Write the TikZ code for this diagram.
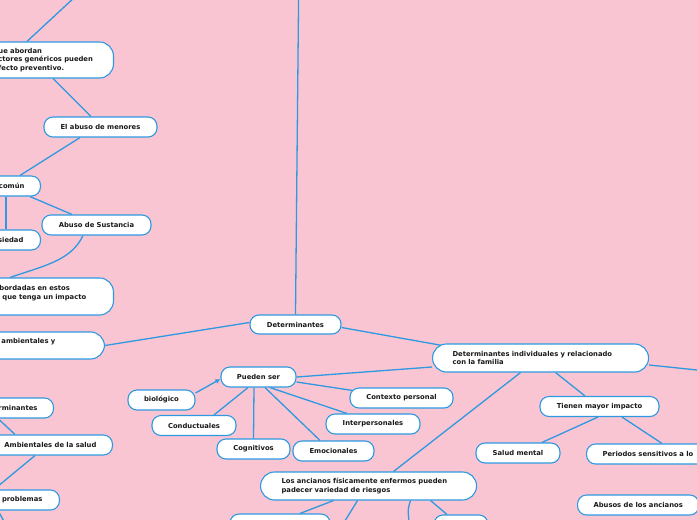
\documentclass[tikz,border=0pt]{standalone}
\usepackage{fontspec}
\setmainfont{DejaVu Sans}
\usetikzlibrary{arrows.meta,positioning}
\definecolor{mapbg}{RGB}{249,197,210}
\definecolor{mapblue}{RGB}{46,152,224}
\definecolor{mapink}{RGB}{25,25,25}
\pgfdeclarelayer{back}
\pgfsetlayers{back,main}

\begin{document}
\begin{tikzpicture}[x=1pt,y=-1pt,
idea/.style={draw=mapblue, line width=1.1pt, fill=white, rounded corners=9pt, text=mapink, font=\fontsize{6.8}{8.8}\selectfont\bfseries, minimum height=20pt, inner ysep=2pt, align=center},
wide/.style={idea, rounded corners=14pt, align=left, inner xsep=20pt},
cut/.style={idea, anchor=east, inner xsep=17pt},
cutwide/.style={wide, anchor=east, inner xsep=18pt},
link/.style={draw=mapblue, line width=1.3pt}
]
\useasboundingbox (0,0) rectangle (697,520);

% left branch
\node[cutwide, text width=97pt, minimum height=36pt] (generic) at (114,60) {ue abordan\\ctores genéricos pueden\\fecto preventivo.};
\node[idea, minimum width=113pt] (menores) at (100.5,127) {El abuso de menores};
\node[cut, inner xsep=16pt] (comun) at (41,186) {común};
\node[cut, inner xsep=17pt] (ansiedad) at (41,240) {siedad};
\node[idea, minimum width=109pt] (sustancia) at (96.5,225) {Abuso de Sustancia};
\node[cutwide, text width=96pt, minimum height=37pt] (impacto) at (114,296.5) {bordadas en estos\\\hspace*{3pt}que tenga un impacto\\\mbox{}};
\node[cutwide, text width=85pt, minimum height=27pt] (ambientales) at (105,345.5) {ambientales y\\\mbox{}};
\node[cut, inner xsep=16pt] (determb) at (54,408) {rminantes};
\node[cut, inner xsep=16pt] (ambsalud) at (113,445) {Ambientales de la salud};
\node[cut, inner xsep=17pt] (problemas) at (60,500) {problemas};

% center
\node[idea, minimum width=91pt, minimum height=19pt] (determ) at (295.5,324.5) {Determinantes};
\node[wide, anchor=west, text width=176pt, minimum height=28pt] (individual) at (432,358) {Determinantes individuales y relacionado\\con la familia};
\node[idea, minimum width=75pt] (pueden) at (258.5,377) {Pueden ser};
\node[idea, minimum width=67pt] (biologico) at (161.5,400) {biológico};
\node[idea, minimum width=84pt] (conductual) at (194,425.5) {Conductuales};
\node[idea, minimum width=73pt] (cognitivo) at (253.5,449) {Cognitivos};
\node[idea, minimum width=81pt] (emocional) at (333.5,451) {Emocionales};
\node[idea, minimum width=94pt] (interpersonal) at (373,424) {Interpersonales};
\node[idea, minimum width=103pt] (contexto) at (401.5,398) {Contexto personal};

% right branch
\node[idea, minimum width=119pt] (impactomayor) at (599.5,406.5) {Tienen mayor impacto};
\node[idea, minimum width=84pt] (saludmental) at (518,453) {Salud mental};
\node[idea, anchor=west, inner xsep=16pt] (periodos) at (586,454) {Periodos sensitivos a lo};
\node[idea, anchor=west, inner xsep=16pt] (abusos) at (577,505) {Abusos de los ancianos};
\node[wide, anchor=west, inner xsep=21pt, text width=174pt, minimum height=28pt] (ancianos) at (260,486) {Los ancianos físicamente enfermos pueden\\padecer variedad de riesgos};
\node[idea, minimum width=100pt] (riesgoa) at (280,524) {};
\node[idea, minimum width=54pt] (riesgob) at (461,525) {};

% free ends
\coordinate (upleft) at (76,-4);
\coordinate (uptop) at (298.6,-3);
\coordinate (rightout) at (702,370.5);
\coordinate (downa) at (343,524);
\coordinate (downb) at (409,524);
\coordinate (downc) at (6,525);

\begin{pgfonlayer}{back}
\fill[mapbg] (0,0) rectangle (697,520);
\draw[link] ([xshift=-87pt]generic.north east) -- (upleft);
\draw[link] ([xshift=-61pt]generic.south east) -- ([xshift=-9.5pt]menores.north);
\draw[link] ([xshift=-20.5pt]menores.south) -- ([xshift=-21pt]comun.north east);
\draw[link] ([xshift=-35pt]comun.south east) -- ([xshift=-35pt]ansiedad.north east);
\draw[link] ([xshift=-11pt]comun.south east) -- ([xshift=-24.5pt]sustancia.north);
\draw[link] ([xshift=-13.5pt]sustancia.south) .. controls +(-12,25) and +(35,-12) .. ([xshift=-104pt]impacto.north east);
\draw[link] (ambientales.east) -- ([yshift=2pt]determ.west);
\draw[link] (determ.north) -- (uptop);
\draw[link] ([yshift=-3pt]determ.east) -- ([xshift=10pt,yshift=-2pt]individual.north west);
\draw[link] ([yshift=-9pt]individual.west) -- (pueden.east);
\draw[link] ([yshift=-7pt]individual.east) -- (rightout);
\draw[link] ([xshift=-20pt]individual.south) -- ([xshift=25pt]ancianos.north);
\draw[link] ([xshift=15pt]individual.south) -- ([xshift=-14.5pt]impactomayor.north);
\draw[link, -{Latex[length=5pt,width=5pt]}] ([yshift=7pt]biologico.east) -- ([yshift=-2pt]pueden.west);
\draw[link] ([xshift=20pt]conductual.north) -- ([xshift=-10.5pt]pueden.south);
\draw[link] ([xshift=-4.5pt]pueden.south) -- (cognitivo.north);
\draw[link] ([xshift=6.5pt]pueden.south) -- ([xshift=-13.5pt]emocional.north);
\draw[link] ([xshift=11.5pt]pueden.south) -- ([xshift=-26pt]interpersonal.north);
\draw[link] ([yshift=-5pt]pueden.east) -- ([xshift=3pt,yshift=-3pt]contexto.north west);
\draw[link] ([xshift=-1.5pt]impactomayor.south) -- ([xshift=24pt]saludmental.north);
\draw[link] ([xshift=22.5pt]impactomayor.south) -- ([xshift=76pt]periodos.north west);
\draw[link] ([xshift=-35pt]ancianos.south) -- ([xshift=20pt]riesgoa.north);
\draw[link] ([xshift=-11pt]ancianos.south) -- (downa);
\draw[link] ([xshift=42pt]ancianos.south) .. controls +(-4,10) and +(0,-8) .. (downb);
\draw[link] ([xshift=62pt]ancianos.south) -- ([xshift=-14pt]riesgob.north);
\draw[link] ([xshift=-56pt]determb.south east) -- ([xshift=-98pt]ambsalud.north east);
\draw[link] ([xshift=-78pt]ambsalud.south east) -- ([xshift=-66pt]problemas.north east);
\draw[link] ([xshift=-62pt]problemas.south east) -- (downc);
\end{pgfonlayer}
\end{tikzpicture}
\end{document}
